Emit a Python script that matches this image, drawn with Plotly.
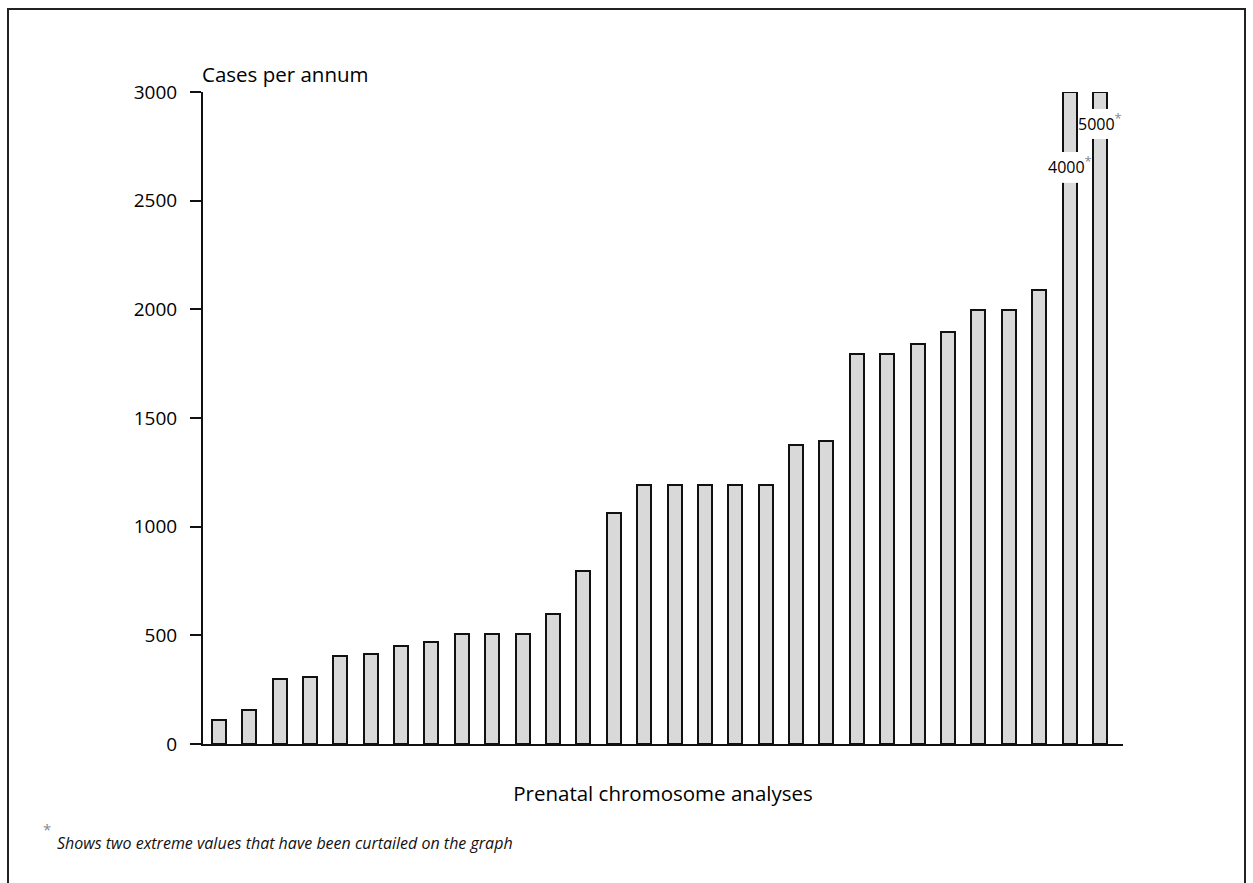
import plotly.graph_objects as go

# Data
labs = [f"Lab {i}" for i in range(1, 31)]
cases = [110, 155, 300, 310, 405, 415, 450, 470, 505, 505,
         505, 600, 795, 1065, 1190, 1190, 1190, 1190, 1190, 1375,
         1395, 1795, 1795, 1840, 1895, 1995, 1995, 2090, 4000, 5000]
axis_cap = 3000
y_ticks = [0, 500, 1000, 1500, 2000, 2500, 3000]

shown = [min(v, axis_cap) for v in cases]
FONT = "'Open Sans', Lato, sans-serif"

W, H = 1253, 883
L, R, T, B = 203, 130, 92, 139
pw, ph = W - L - R, H - T - B


def px(xp):
    return (xp - L) / pw


def py(yp):
    return (H - B - yp) / ph


fig = go.Figure()
fig.add_trace(go.Bar(
    x=list(range(len(labs))), y=shown,
    width=0.46,
    marker=dict(color="#d9d9d9", line=dict(color="#111111", width=2)),
    hoverinfo="skip",
))

# curtailed labels: (label centre, break bottom, break top) in value units
curtailed = {28: (2664, 2582, 2724), 29: (2862, 2784, 2922)}
for idx, (yc, yb, yt) in curtailed.items():
    fig.add_shape(type="rect", xref="x", yref="y", x0=idx - 0.3, x1=idx + 0.3,
                  y0=yb, y1=yt, fillcolor="white", line=dict(width=0),
                  layer="above")
    fig.add_annotation(
        x=idx, y=yc, xref="x", yref="y",
        text=f"{cases[idx]}<sup><span style='color:#888;font-size:13px'>*</span></sup>",
        showarrow=False,
        font=dict(family=FONT, size=16, color="#000"),
    )

fig.add_annotation(
    x=0, y=1.0, xref="paper", yref="paper", xanchor="left", yanchor="bottom",
    yshift=2, xshift=-3, text="Cases per annum", showarrow=False,
    font=dict(family=FONT, size=20.5, color="#000"),
)
fig.add_annotation(
    x=px(41), y=py(829), xref="paper", yref="paper", showarrow=False,
    text="<span style='color:#888'>*</span>", xanchor="left", yanchor="middle",
    font=dict(family=FONT, size=15, color="#111"),
)
fig.add_annotation(
    x=px(55), y=py(843), xref="paper", yref="paper", xanchor="left", yanchor="middle",
    text="<i>Shows two extreme values that have been curtailed on the graph</i>",
    showarrow=False, font=dict(family=FONT, size=16, color="#111"),
)

# outer frame (open at bottom)
fig.add_shape(type="path", xref="paper", yref="paper",
              path=f"M {px(8)} {py(900)} L {px(8)} {py(9)} L {px(1245)} {py(9)} L {px(1245)} {py(900)}",
              line=dict(color="#222", width=2))

fig.update_layout(
    width=W, height=H,
    margin=dict(l=L, r=R, t=T, b=B, autoexpand=False),
    paper_bgcolor="white", plot_bgcolor="white",
    showlegend=False,
    bargap=0,
    xaxis=dict(
        range=[-0.52, 29.76], showticklabels=False, ticks="", showgrid=False,
        zeroline=False, showline=True, linecolor="#111", linewidth=2,
        title=dict(text="Prenatal chromosome analyses", standoff=42,
                   font=dict(family=FONT, size=20.5, color="#000")),
    ),
    yaxis=dict(
        range=[0, axis_cap], tickvals=y_ticks, ticks="outside", ticklen=11,
        tickwidth=2, tickcolor="#111", showgrid=False, zeroline=False,
        showline=True, linecolor="#111", linewidth=2, ticklabelstandoff=9,
        tickfont=dict(family=FONT, size=19, color="#000"),
    ),
)

fig.write_html("out.html")
